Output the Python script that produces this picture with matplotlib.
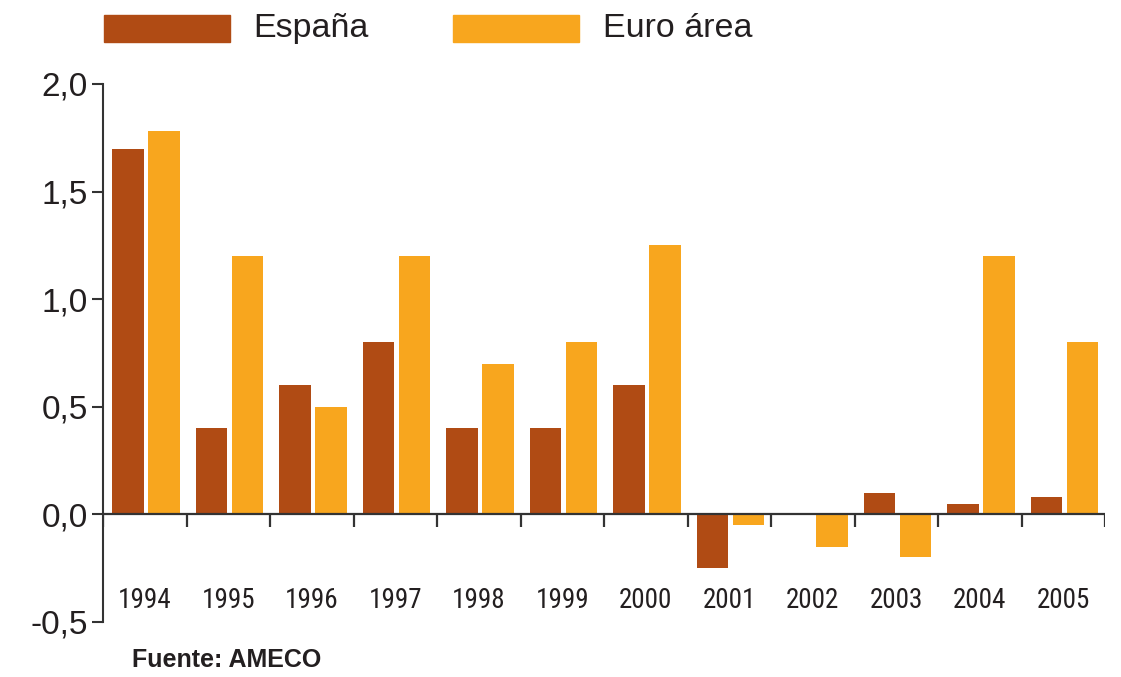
import matplotlib
matplotlib.use("Agg")
import matplotlib.pyplot as plt
from matplotlib.patches import Rectangle
from matplotlib import font_manager
import numpy as np

years = ["1994", "1995", "1996", "1997", "1998", "1999", "2000",
         "2001", "2002", "2003", "2004", "2005"]
espana = [1.70, 0.40, 0.60, 0.80, 0.40, 0.40, 0.60, -0.25, 0.0, 0.10, 0.05, 0.08]
euro = [1.78, 1.20, 0.50, 1.20, 0.70, 0.80, 1.25, -0.05, -0.15, -0.20, 1.20, 0.80]
yticks = [-0.5, 0.0, 0.5, 1.0, 1.5, 2.0]
ytick_labels = ["-0,5", "0,0", "0,5", "1,0", "1,5", "2,0"]
series_names = ["España", "Euro área"]
source = "Fuente: AMECO"

c_es = "#B04B14"
c_eu = "#F8A61E"
c_txt = "#231F20"
c_ax = "#333333"

plt.rcParams['font.family'] = ['Liberation Sans', 'DejaVu Sans']

# pick a condensed face if one is installed
names = {f.name for f in font_manager.fontManager.ttflist}
cond = None
for cand in ['Liberation Sans Narrow', 'Roboto Condensed', 'Open Sans Condensed',
             'DejaVu Sans Condensed', 'Noto Sans Condensed']:
    if cand in names:
        cond = cand
        break

fig = plt.figure(figsize=(11.21, 6.77), dpi=100)
ax = fig.add_axes([103/1121, 1 - 622/677, (1105-103)/1121, (622-84)/677])

x = np.arange(len(years))
w = 0.383
ax.bar(x + 0.108, espana, width=w, align='edge', color=c_es, zorder=2)
ax.bar(x + 0.539, euro, width=w, align='edge', color=c_eu, zorder=2)

ax.set_xlim(0, len(years))
ax.set_ylim(-0.5, 2.0)

for s in ['top', 'right', 'bottom']:
    ax.spines[s].set_visible(False)
ax.spines['left'].set_color(c_ax)
ax.spines['left'].set_linewidth(1.5)

ax.set_yticks(yticks)
ax.set_yticklabels(ytick_labels, fontsize=24, color=c_txt)
ax.tick_params(axis='y', direction='out', length=8, width=1.5, color=c_ax, pad=3)
ax.set_xticks([])

# zero line with group separators
ax.axhline(0, color=c_ax, lw=1.6, zorder=3)
tick_len = 13 / 215.2
for b in range(len(years) + 1):
    ax.plot([b, b], [0, -tick_len], color=c_ax, lw=1.6, zorder=3, solid_capstyle='butt')

if cond is not None:
    yr_kw = dict(family=[cond, 'Liberation Sans'], fontsize=19.5)
else:
    yr_kw = dict(family=['Liberation Sans'], fontsize=17)

for i, yr in enumerate(years):
    ax.text(i + 0.5, -0.437, yr, ha='center', va='baseline', color=c_txt, **yr_kw)

# legend
fig.add_artist(Rectangle((104/1121, 1 - 42/677), 126/1121, 27/677,
                         transform=fig.transFigure, color=c_es))
fig.add_artist(Rectangle((453/1121, 1 - 42/677), 126/1121, 27/677,
                         transform=fig.transFigure, color=c_eu))
fig.text(253/1121, 1 - 37/677, series_names[0], fontsize=24.5, va='baseline', ha='left', color=c_txt)
fig.text(603/1121, 1 - 37/677, series_names[1], fontsize=24.5, va='baseline', ha='left', color=c_txt)

fig.text(132/1121, 1 - 667/677, source, fontsize=18, fontweight='bold',
         va='baseline', ha='left', color=c_txt)

fig.savefig("out.png", dpi=100)
